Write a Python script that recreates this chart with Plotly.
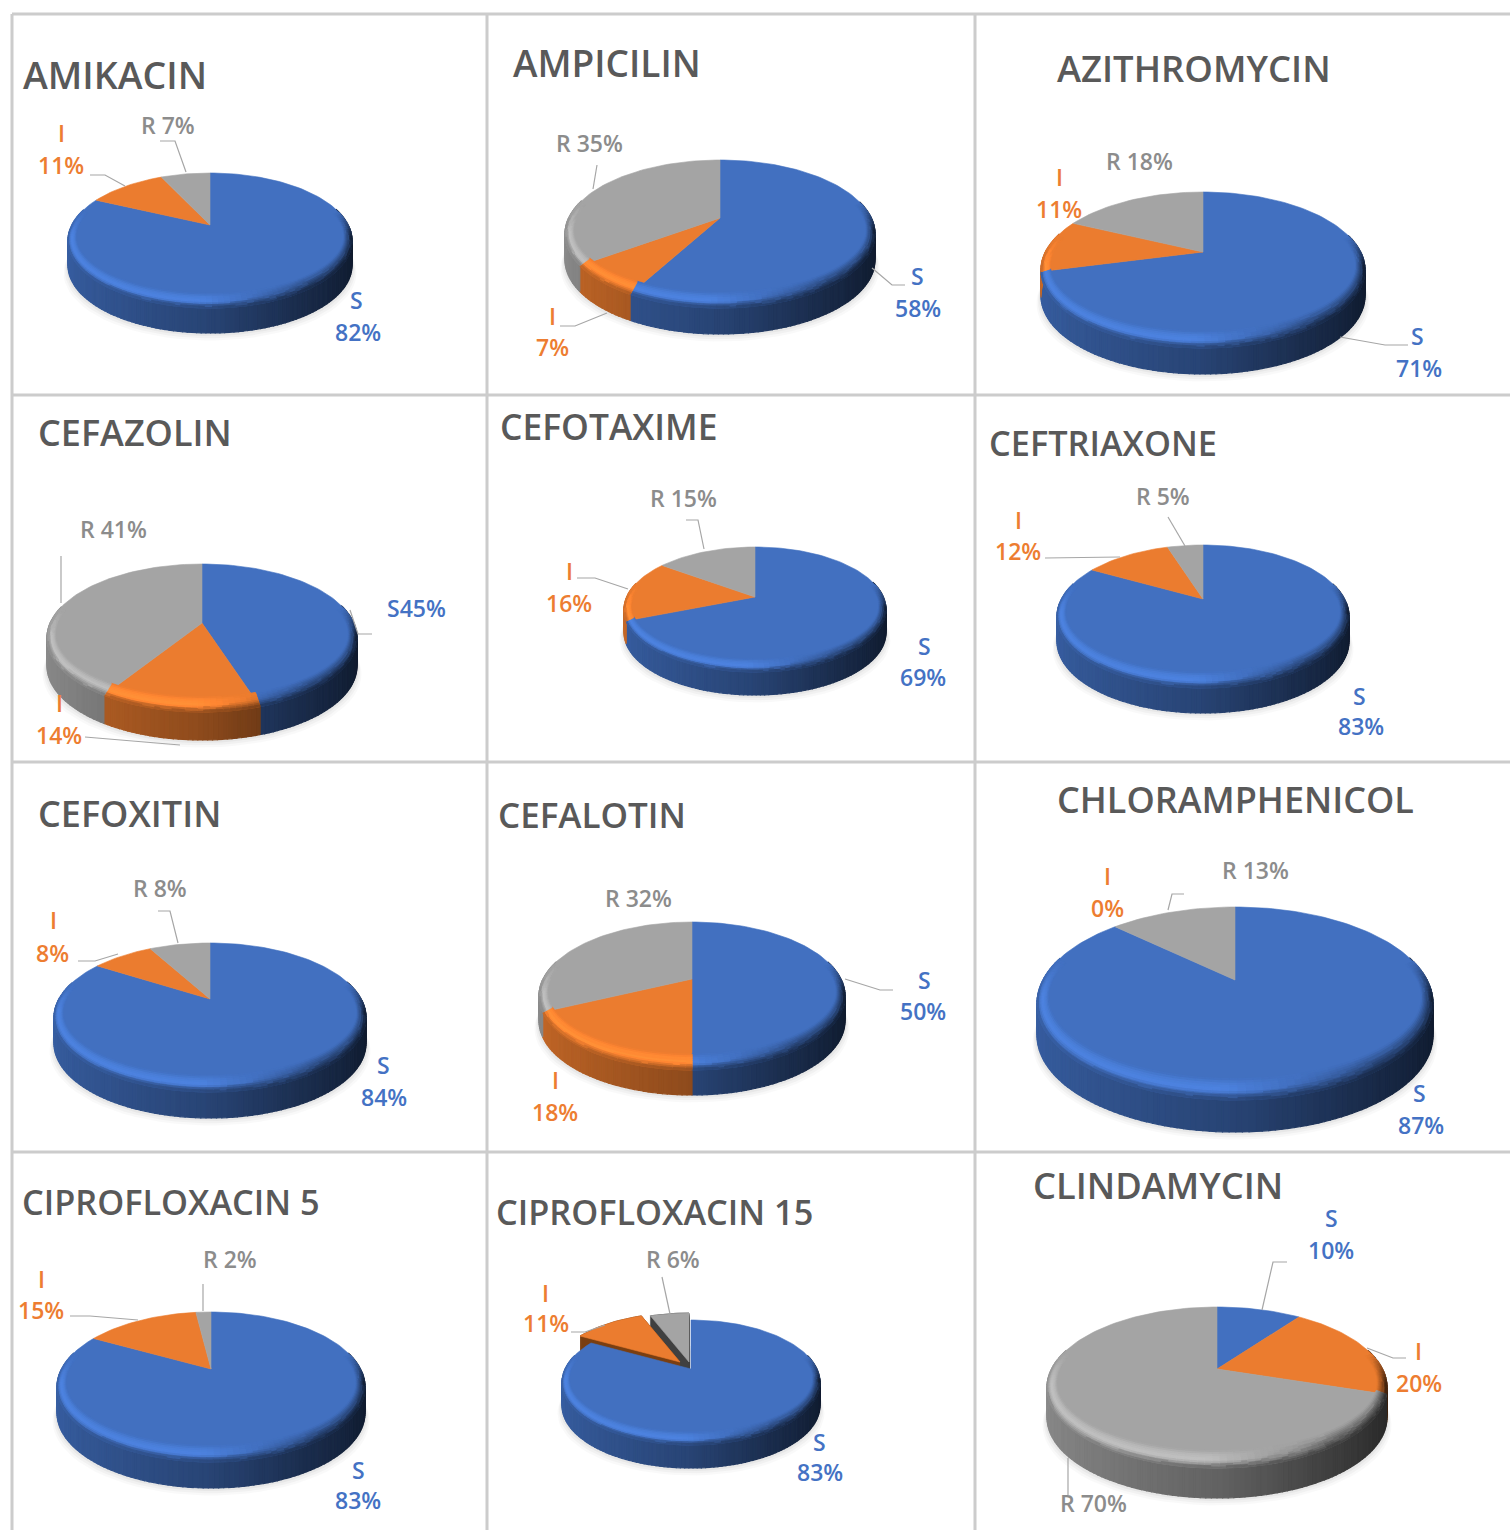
import math
import plotly.graph_objects as go

# ---------- data ----------
drugs = ["AMIKACIN", "AMPICILIN", "AZITHROMYCIN", "CEFAZOLIN", "CEFOTAXIME", "CEFTRIAXONE",
         "CEFOXITIN", "CEFALOTIN", "CHLORAMPHENICOL", "CIPROFLOXACIN 5", "CIPROFLOXACIN 15", "CLINDAMYCIN"]
s_values = [82, 58, 71, 45, 69, 83, 84, 50, 87, 83, 83, 10]
i_values = [11, 7, 11, 14, 16, 12, 8, 18, 0, 15, 11, 20]
r_values = [7, 35, 18, 41, 15, 5, 8, 32, 13, 2, 6, 70]
categories = ["S", "I", "R"]

# ---------- layout / styling (pixels) ----------
BLUE, ORANGE, GRAY = "#4270C0", "#EB7C2F", "#A4A4A4"
slice_colors = [BLUE, ORANGE, GRAY]
text_colors = ["#4472C4", "#ED7D31", "#8C8C8C"]
# cx, rx, top, apex, bottom of top face, bottom of wall
pie_geom = [
    (210, 142, 173, 225, 308, 333), (720, 155, 160, 218, 308, 334), (1203, 162, 192, 252, 348, 374),
    (202, 155, 564, 623, 712, 740), (755, 131, 547, 597, 672, 695), (1203, 146, 545, 599, 688, 713),
    (210, 156, 943, 999, 1092, 1118), (692, 153, 922, 979, 1070, 1095), (1235, 198, 907, 980, 1100, 1132),
    (211, 154, 1312, 1369, 1462, 1488), (691, 129, 1320, 1369, 1445, 1468), (1217, 170, 1307, 1369, 1468, 1498),
]
# title: x-left, y-centre, font size
title_pos = [(21, 74), (511, 62), (1055, 68), (36, 432), (498, 426), (987, 442),
             (36, 813), (496, 814), (1055, 799), (20, 1201), (494, 1211), (1031, 1185)]
title_size = [37.5, 37, 36.4, 36, 35.4, 34.3, 36, 35, 36, 34.3, 34.3, 36.3]
# label positions: S name, S pct, I name, I pct, R joined
label_pos = [
    ((356, 300), (358, 332), (61, 133), (61, 165), (168, 125)),
    ((917, 276), (918, 308), (552, 316), (552, 347), (589, 143)),
    ((1417, 336), (1419, 368), (1059, 177), (1059, 209), (1139, 161)),
    (None, (416, 608), (59, 703), (59, 735), (113, 529)),
    ((924, 646), (923, 677), (569, 571), (569, 603), (683, 498)),
    ((1359, 696), (1361, 726), (1018, 520), (1018, 551), (1163, 496)),
    ((383, 1065), (384, 1097), (53, 920), (52, 953), (160, 888)),
    ((924, 980), (923, 1011), (555, 1080), (555, 1112), (638, 898)),
    ((1419, 1093), (1421, 1125), (1107, 876), (1107, 908), (1255, 870)),
    ((358, 1470), (358, 1500), (41, 1279), (41, 1310), (230, 1259)),
    ((819, 1442), (820, 1472), (545, 1293), (546, 1323), (673, 1259)),
    ((1331, 1218), (1331, 1250), (1418, 1351), (1419, 1383), (1093, 1503)),
]
leaders = [
    [[(90, 175), (105, 175), (125, 186)], [(160, 141), (175, 141), (186, 172)]],
    [[(597, 165), (593, 189)], [(560, 326), (575, 326), (607, 313)], [(905, 285), (892, 285), (872, 268)]],
    [[(1408, 345), (1385, 345), (1340, 337)]],
    [[(61, 556), (61, 603)], [(85, 737), (120, 740), (180, 745)], [(372, 634), (358, 634), (350, 610)]],
    [[(686, 520), (698, 520), (704, 549)], [(577, 578), (595, 578), (628, 589)]],
    [[(1168, 517), (1185, 546)], [(1045, 558), (1120, 557)]],
    [[(78, 961), (95, 961), (118, 954)], [(158, 911), (170, 911), (178, 943)]],
    [[(893, 990), (880, 990), (845, 979)]],
    [[(1184, 894), (1172, 894), (1168, 910)]],
    [[(70, 1316), (90, 1316), (138, 1320)], [(203, 1284), (203, 1311)]],
    [[(571, 1332), (585, 1332), (605, 1325)], [(662, 1277), (670, 1314)]],
    [[(1287, 1262), (1273, 1262), (1262, 1310)], [(1406, 1358), (1393, 1358), (1367, 1348)], [(1068, 1458), (1068, 1495)]],
]
# exploded slices: pie index -> {slice index: (dx, dy)}
explode = {10: {1: (-11, -7), 2: (-2, -7)}}
explode_side = {1: "#7A3F12", 2: "#404040"}

grid_v = [12, 487, 975]
grid_h = [14, 395, 762, 1152]
GRID = "#CCCCCC"
LABEL_FONT = "Open Sans"
LABEL_SIZE = 23


def shade(color, f):
    f = round(f / 0.012) * 0.012
    rgb = [int(color[i:i + 2], 16) for i in (1, 3, 5)]
    out = [min(255, max(0, round(c * f))) for c in rgb]
    return "#%02X%02X%02X" % tuple(out)


def clamp(x):
    return max(0.0, min(1.0, x))


def wall_factor(xn):
    return 0.84 - 0.24 * (xn + 1) - 0.08 * clamp(xn * 2) - 0.05 * clamp((xn - 0.5) * 2)


class Projector:
    """Perspective view of a unit disc, from the pixel geometry of one pie."""

    def __init__(self, geom):
        self.cx, rx, top, self.apex, bottom, wall = geom
        self.depth = wall - bottom
        back, front = self.apex - top, bottom - self.apex
        self.c = (back - front) / (back + front)
        self.a = front * (1 + self.c)
        self.X = rx * math.sqrt(1 - self.c ** 2)

    def point(self, theta, ru=1.0, rv=None, dx=0, dy=0):
        rv = ru if rv is None else rv
        u, v = math.sin(theta) * ru, -math.cos(theta) * rv
        w = 1 + self.c * v
        return self.cx + self.X * u / w + dx, self.apex + self.a * v / w + dy


fig = go.Figure()


def add_polys(polys, color, opacity=None, lw=0.8):
    xs, ys = [], []
    for p in polys:
        xs += [q[0] for q in p] + [p[0][0], None]
        ys += [q[1] for q in p] + [p[0][1], None]
    fig.add_trace(go.Scatter(x=xs, y=ys, mode="lines", fill="toself", fillcolor=color,
                             line=dict(color=color, width=lw), opacity=opacity,
                             hoverinfo="skip", showlegend=False))


def flush(groups):
    for color, polys in groups.items():
        add_polys(polys, color, lw=1.2)


def arc(a0, a1, deg=2.0):
    n = max(2, int(abs(a1 - a0) / math.radians(deg)) + 1)
    return [a0 + (a1 - a0) * k / n for k in range(n + 1)]


annotations = []
shapes = []
for x in grid_v:
    shapes.append(dict(type="line", xref="x", yref="y", x0=x, x1=x, y0=grid_h[0], y1=1530,
                       line=dict(color=GRID, width=3), layer="below"))
for y in grid_h:
    shapes.append(dict(type="line", xref="x", yref="y", x0=grid_v[0], x1=1510, y0=y, y1=y,
                       line=dict(color=GRID, width=3), layer="below"))

for idx, name in enumerate(drugs):
    values = [s_values[idx], i_values[idx], r_values[idx]]
    total = sum(values)
    proj = Projector(pie_geom[idx])
    offs = explode.get(idx, {})

    # slice angles
    angles = []
    acc = 0
    for val in values:
        angles.append((2 * math.pi * acc / total, 2 * math.pi * (acc + val) / total))
        acc += val

    # soft shadow
    ring = arc(0, 2 * math.pi, 4)
    for grow, alpha in ((10, 0.025), (7, 0.03), (4, 0.04)):
        scale = 1 + 0.45 * grow / pie_geom[idx][1]
        poly = [(proj.cx + (x - proj.cx) * scale, y + proj.depth + grow * 0.75)
                for x, y in (proj.point(t) for t in ring)]
        add_polys([poly], "#000000", opacity=alpha, lw=0)

    # sides of exploded slices
    for k in (2, 1):
        if k in offs and values[k] > 0:
            dx, dy = offs[k]
            base = [(proj.cx + dx, proj.apex + dy)] + [proj.point(t, dx=dx, dy=dy) for t in arc(*angles[k])]
            sweep = [[(x, y + s) for x, y in base] for s in range(0, proj.depth + 1)]
            add_polys(sweep, explode_side[k])

    # wall
    wall = {}
    for k, (a0, a1) in enumerate(angles):
        if values[k] == 0 or k in offs:
            continue
        ts = arc(a0, a1, 1.5)
        for t0, t1 in zip(ts, ts[1:]):
            tm = (t0 + t1) / 2
            if -math.cos(tm) < -0.25:
                continue
            p0, p1 = proj.point(t0), proj.point(t1)
            poly = [p0, p1, (p1[0], p1[1] + proj.depth), (p0[0], p0[1] + proj.depth)]
            wall.setdefault(shade(slice_colors[k], wall_factor(math.sin(tm))), []).append(poly)
    flush(wall)

    # top faces, not exploded first
    order = [k for k in range(3) if k not in offs] + [k for k in (2, 1) if k in offs]
    for k in order:
        if values[k] == 0:
            continue
        dx, dy = offs.get(k, (0, 0))
        poly = [(proj.cx + dx, proj.apex + dy)] + [proj.point(t, dx=dx, dy=dy) for t in arc(*angles[k])]
        add_polys([poly], slice_colors[k], lw=0.6)

    # bevel along the front rim, fading into the wall
    bevel = {}
    steps = 9
    for k, (a0, a1) in enumerate(angles):
        if values[k] == 0 or k in offs:
            continue
        ts = arc(a0, a1, 2)
        for t0, t1 in zip(ts, ts[1:]):
            tm = (t0 + t1) / 2
            vn, xn = -math.cos(tm), math.sin(tm)
            w = clamp((vn + 0.22) / 0.4)
            if w <= 0:
                continue
            m = clamp((xn + 0.05) / 0.65)
            wf = wall_factor(xn)
            for j in range(steps):
                q = (j + 0.5) / steps
                if q < 0.55:
                    left = 1 + 0.16 * math.sin(math.pi / 2 * q / 0.55)
                else:
                    left = 1.16 + (wf - 1.16) * ((q - 0.55) / 0.45)
                right = 1 + (wf - 1) * q ** 1.1
                f = 1 + w * (left * (1 - m) + right * m - 1)
                r0u, r1u = 1 - 0.05 * (1 - j / steps), 1 - 0.05 * (1 - (j + 1) / steps)
                r0v, r1v = 1 - 0.14 * (1 - j / steps), 1 - 0.14 * (1 - (j + 1) / steps)
                poly = [proj.point(t0, r0u, r0v), proj.point(t1, r0u, r0v),
                        proj.point(t1, r1u, r1v), proj.point(t0, r1u, r1v)]
                bevel.setdefault(shade(slice_colors[k], f), []).append(poly)
    flush(bevel)

    # leader lines
    for line in leaders[idx]:
        fig.add_trace(go.Scatter(x=[p[0] for p in line], y=[p[1] for p in line], mode="lines",
                                 line=dict(color="#A6A6A6", width=1.2), hoverinfo="skip", showlegend=False))

    # title
    tx, ty = title_pos[idx]
    annotations.append(dict(x=tx, y=ty, xref="x", yref="y", text=name, showarrow=False,
                            xanchor="left", yanchor="middle",
                            font=dict(family="Open Sans", size=title_size[idx], color="#595959", weight=600)))

    # labels
    sn, sp, inm, ip, rp = label_pos[idx]
    items = []
    if sn is None:
        items.append((sp, f"{categories[0]}{values[0]}%", 0))
    else:
        items += [(sn, categories[0], 0), (sp, f"{values[0]}%", 0)]
    items += [(inm, categories[1], 1), (ip, f"{values[1]}%", 1), (rp, f"{categories[2]} {values[2]}%", 2)]
    for pos, txt, k in items:
        annotations.append(dict(x=pos[0], y=pos[1], xref="x", yref="y", text=txt, showarrow=False,
                                xanchor="center", yanchor="middle",
                                font=dict(family=LABEL_FONT, size=LABEL_SIZE, color=text_colors[k], weight=600)))

fig.update_layout(
    width=1510, height=1530, margin=dict(l=0, r=0, t=0, b=0), autosize=False,
    paper_bgcolor="white", plot_bgcolor="white", showlegend=False,
    xaxis=dict(range=[0, 1510], visible=False, fixedrange=True),
    yaxis=dict(range=[1530, 0], visible=False, fixedrange=True),
    annotations=annotations, shapes=shapes,
)
fig.write_html("out.html", post_script="document.body.style.margin='0';", config={"displayModeBar": False})
